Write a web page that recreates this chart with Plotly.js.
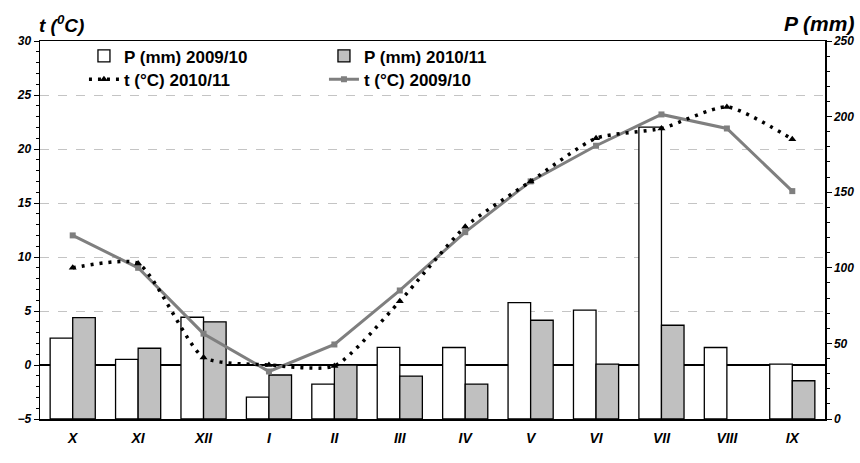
<!DOCTYPE html>
<html>
<head>
<meta charset="utf-8">
<script src="https://cdn.plot.ly/plotly-3.0.1.min.js"></script>
<style>html,body{margin:0;padding:0;background:#fff;}#chart{width:860px;height:463px;}</style>
</head>
<body>
<div id="chart"></div>
<script>
var months = ['X','XI','XII','I','II','III','IV','V','VI','VII','VIII','IX'];
var p0910 = [53.5, 39.5, 67.3, 14.5, 23.0, 47.4, 47.3, 77.0, 72.0, 193.0, 47.3, 36.3];
var p1011 = [67.0, 46.8, 64.3, 29.1, 35.7, 28.4, 23.1, 65.3, 36.3, 62.0, null, 25.3];
var t0910 = [12.0, 9.0, 2.9, -0.6, 1.9, 6.9, 12.3, 17.0, 20.3, 23.2, 21.9, 16.1];
var t1011 = [9.0, 9.4, 0.7, 0.0, -0.1, 5.9, 12.8, 17.0, 21.0, 21.9, 23.9, 20.9];
var leftTicks = [-5, 0, 5, 10, 15, 20, 25, 30];
var rightTicks = [0, 50, 100, 150, 200, 250];

var FONT = 'Liberation Sans, Arial, sans-serif';
var tickFont = {family: FONT, size: 12, weight: 'bold', style: 'italic', color: '#000'};
var legFont = {family: FONT, size: 17, weight: 'bold', color: '#000'};

var data = [
  {type: 'bar', name: 'P (mm) 2009/10', x: months, y: p0910, xaxis: 'x', yaxis: 'y',
   marker: {color: '#ffffff', line: {color: '#000', width: 1.3}}, legend: 'legend'},
  {type: 'bar', name: 'P (mm) 2010/11', x: months, y: p1011, xaxis: 'x', yaxis: 'y',
   marker: {color: '#c0c0c0', line: {color: '#000', width: 1.3}}, legend: 'legend'},
  {type: 'scatter', mode: 'lines+markers', name: 't (°C) 2009/10', x: months, y: t0910,
   xaxis: 'x', yaxis: 'y2', line: {color: '#7f7f7f', width: 3},
   marker: {symbol: 'square', size: 6, color: '#7f7f7f'}, legend: 'legend2'},
  {type: 'scatter', mode: 'lines+markers', name: 't (°C) 2010/11', x: months, y: t1011,
   xaxis: 'x', yaxis: 'y2', line: {color: '#000', width: 3.5, dash: '3px,6px', shape: 'spline', smoothing: 0.6},
   marker: {symbol: 'triangle-up', size: 7, color: '#000'}, legend: 'legend2'}
];

var layout = {
  width: 860, height: 463,
  margin: {l: 40, r: 35, t: 41, b: 44},
  paper_bgcolor: '#fff', plot_bgcolor: '#fff',
  barmode: 'group', bargap: 0.31, bargroupgap: 0,
  font: {family: FONT, color: '#000'},
  xaxis: {
    type: 'category', range: [-0.5, 11.5], showline: true, linecolor: '#000', linewidth: 1.5,
    mirror: true, ticks: '', showgrid: false, zeroline: false, ticklabelstandoff: 6,
    tickfont: {family: FONT, size: 14, weight: 'bold', style: 'italic', color: '#000'}
  },
  xaxis3: {
    overlaying: 'x', anchor: 'free', position: 5/35, range: [0, 12], tick0: 0, dtick: 1,
    showline: true, linecolor: '#000', linewidth: 1.3, ticks: 'inside', ticklen: 4, tickcolor: '#000',
    showticklabels: false, showgrid: false, zeroline: false
  },
  yaxis: {
    side: 'right', range: [0, 250], tickvals: rightTicks, ticks: 'outside', ticklen: 5,
    tickcolor: '#000', showline: true, linecolor: '#000', linewidth: 1.5, showgrid: false,
    zeroline: false, tickfont: tickFont,
    minor: {dtick: 10, ticks: 'outside', ticklen: 3, tickcolor: '#000'}
  },
  yaxis2: {
    overlaying: 'y', side: 'left', range: [-5, 30], tickvals: leftTicks, ticks: 'outside', ticklen: 5,
    tickcolor: '#000', showline: true, linecolor: '#000', linewidth: 1.5,
    showgrid: true, gridcolor: '#c4c4c4', griddash: 'dash', gridwidth: 1,
    zeroline: true, zerolinecolor: '#000', zerolinewidth: 1.3,
    tickfont: tickFont,
    minor: {dtick: 1, ticks: 'outside', ticklen: 3, tickcolor: '#000'}
  },
  legend: {
    orientation: 'h', x: 0.056, y: 1.007, xanchor: 'left', yanchor: 'top',
    entrywidth: 195, entrywidthmode: 'pixels', traceorder: 'normal',
    bgcolor: 'rgba(0,0,0,0)', font: legFont
  },
  legend2: {
    orientation: 'h', x: 0.056, y: 0.945, xanchor: 'left', yanchor: 'top',
    entrywidth: 195, entrywidthmode: 'pixels', traceorder: 'reversed',
    bgcolor: 'rgba(0,0,0,0)', font: legFont
  },
  annotations: [
    {text: 't (<sup>0</sup>C)', xref: 'paper', yref: 'paper', x: -0.004, y: 1.0, yshift: 3,
     xanchor: 'left', yanchor: 'bottom', showarrow: false,
     font: {family: FONT, size: 19, weight: 'bold', style: 'italic', color: '#000'}},
    {text: 'P (mm)', xref: 'paper', yref: 'paper', x: 1.04, y: 1.0, yshift: 4,
     xanchor: 'right', yanchor: 'bottom', showarrow: false,
     font: {family: FONT, size: 21, weight: 'bold', style: 'italic', color: '#000'}}
  ],
  showlegend: true
};

Plotly.newPlot('chart', data, layout, {staticPlot: true, displayModeBar: false});
</script>
</body>
</html>
